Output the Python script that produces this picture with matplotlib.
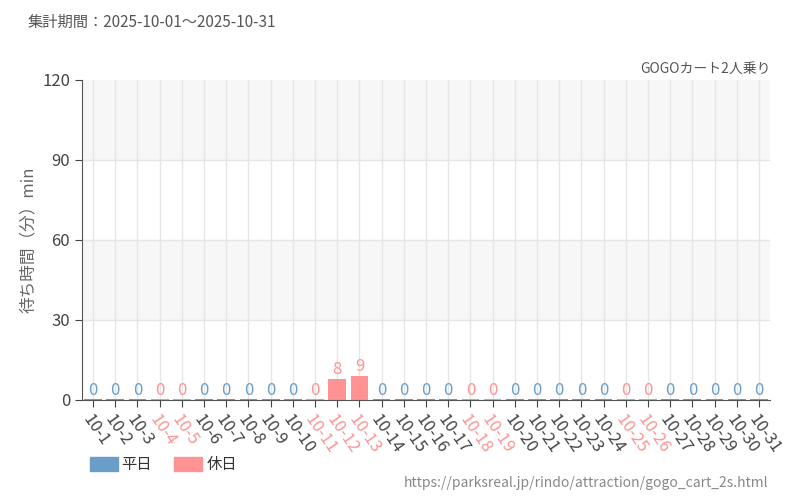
import matplotlib.pyplot as plt
import numpy as np

plt.rcParams['font.family'] = ['Noto Sans CJK JP', 'DejaVu Sans']

days = [f"10-{d}" for d in range(1, 32)]
values = [0] * 31
values[11] = 8
values[12] = 9
holidays = ["10-4", "10-5", "10-11", "10-12", "10-13", "10-18", "10-19", "10-25", "10-26"]

blue = "#6a9ec8"
pink = "#ff9393"
colors = [pink if d in holidays else blue for d in days]

fig = plt.figure(figsize=(8, 5), dpi=100)
ax = fig.add_axes([0.1025, 0.2, 0.86, 0.64])
x = np.arange(len(days))

ax.axhspan(30, 60, color="#f7f7f7", zorder=0)
ax.axhspan(90, 120, color="#f7f7f7", zorder=0)
for xi in x:
    ax.axvline(xi, color="#e6e6e6", lw=1, zorder=0)
for y in [30, 60, 90]:
    ax.axhline(y, color="#e6e6e6", lw=1, zorder=0)

ax.bar(x, values, width=0.8, color=colors, zorder=2)
ax.bar(x, [0.5] * 31, width=0.8, color=colors, zorder=2)
for xi, v, c in zip(x, values, colors):
    ax.text(xi, v + 0.3, str(v), color=c, ha="center", va="bottom", fontsize=12, zorder=3)

ax.set_xlim(-0.5, 30.5)
ax.set_ylim(0, 120)
ax.set_yticks([0, 30, 60, 90, 120])
ax.tick_params(axis="y", length=5, labelsize=12, colors="#444444")
ax.set_xticks(x)
ax.set_xticklabels(days, rotation=-55, ha="left", rotation_mode="anchor", fontsize=12)
for lbl, c in zip(ax.get_xticklabels(), colors):
    lbl.set_color("#444444" if c == blue else pink)
ax.tick_params(axis="x", length=5, color="#444444")
for s in ["top", "right"]:
    ax.spines[s].set_visible(False)
ax.spines["left"].set_color("#555555")
ax.spines["bottom"].set_color("#555555")
ax.set_ylabel("待ち時間（分）min", color="#666666", fontsize=12)

fig.text(0.035, 0.955, "集計期間：2025-10-01～2025-10-31", color="#555555", fontsize=11, va="center")
fig.text(0.963, 0.862, "GOGOカート2人乗り", color="#555555", fontsize=10, ha="right", va="center")
fig.text(0.96, 0.035, "https://parksreal.jp/rindo/attraction/gogo_cart_2s.html", color="#888888",
         fontsize=10, ha="right", va="center")

fig.patches.append(plt.Rectangle((0.112, 0.058), 0.035, 0.028, color=blue, transform=fig.transFigure))
fig.text(0.152, 0.072, "平日", fontsize=11, va="center", color="#333333")
fig.patches.append(plt.Rectangle((0.218, 0.058), 0.035, 0.028, color=pink, transform=fig.transFigure))
fig.text(0.258, 0.072, "休日", fontsize=11, va="center", color="#333333")

fig.savefig("out.png")
